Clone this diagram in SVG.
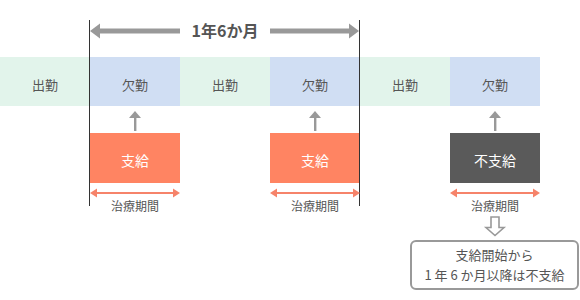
<svg xmlns="http://www.w3.org/2000/svg" width="580" height="300" viewBox="0 0 580 300">
<style>
text{font-family:"Noto Sans CJK JP","Noto Sans",sans-serif;text-anchor:middle}
.band{font-size:13px;fill:#555}
.g{fill:#e2f4eb}
.b{fill:#d0def3}
.box{font-size:14px;fill:#fff}
.per{font-size:12px;fill:#555}
.note{font-size:13px;fill:#555}
.up{fill:#999}
.oa{stroke:#f6836a;stroke-width:2;fill:none}
.oh{fill:#f6836a}
</style>
<rect width="580" height="300" fill="#fff"/>
<g id="band">
<g id="s1"><rect class="g" x="0" y="57" width="90" height="49"/><text class="band" x="45" y="90">出勤</text></g>
<g id="s2"><rect class="b" x="90" y="57" width="90" height="49"/><text class="band" x="135" y="90">欠勤</text></g>
<g id="s3"><rect class="g" x="180" y="57" width="90" height="49"/><text class="band" x="225" y="90">出勤</text></g>
<g id="s4"><rect class="b" x="270" y="57" width="90" height="49"/><text class="band" x="315" y="90">欠勤</text></g>
<g id="s5"><rect class="g" x="360" y="57" width="90" height="49"/><text class="band" x="405" y="90">出勤</text></g>
<g id="s6"><rect class="b" x="450" y="57" width="90" height="49"/><text class="band" x="495" y="90">欠勤</text></g>
</g>
<g id="pay1"><rect x="90" y="133" width="90" height="50" fill="#ff8462"/><text class="box" x="135" y="166">支給</text></g>
<g id="pay2"><rect x="270" y="133" width="90" height="50" fill="#ff8462"/><text class="box" x="315" y="166">支給</text></g>
<g id="pay3"><rect x="450" y="133" width="90" height="50" fill="#5a5a5a"/><text class="box" x="495" y="166">不支給</text></g>
<g id="label1"><text class="per" x="135" y="211">治療期間</text></g>
<g id="label2"><text class="per" x="315" y="211">治療期間</text></g>
<g id="label3"><text class="per" x="495" y="211">治療期間</text></g>
<g id="span"><text x="225" y="37" style="font-size:16px;font-weight:bold;fill:#555">1年6か月</text></g>
<g id="note"><rect x="411" y="241" width="167" height="48" rx="5" fill="#fff" stroke="#999" stroke-width="2"/><text class="note" x="494.5" y="260">支給開始から</text><text class="note" x="494.5" y="280">1 年 6 か月以降は不支給</text></g>
<g id="connectors">
<line x1="89.5" y1="20" x2="89.5" y2="206" stroke="#333" stroke-width="1"/>
<line x1="359.5" y1="20" x2="359.5" y2="206" stroke="#333" stroke-width="1"/>
<rect x="99" y="28.5" width="81" height="5" fill="#999"/>
<polygon points="90,31 100,23.5 100,38.5" fill="#999"/>
<rect x="270" y="28.5" width="80" height="5" fill="#999"/>
<polygon points="359,31 349,23.5 349,38.5" fill="#999"/>
<g class="up"><polygon points="135,111 129,118 141,118"/><rect x="134" y="117" width="2.4" height="14"/></g>
<g class="up"><polygon points="315,111 309,118 321,118"/><rect x="314" y="117" width="2.4" height="14"/></g>
<g class="up"><polygon points="495,111 489,118 501,118"/><rect x="494" y="117" width="2.4" height="14"/></g>
<g><line class="oa" x1="95" y1="193" x2="175" y2="193"/><polygon class="oh" points="90,193 97,188.5 97,197.5"/><polygon class="oh" points="180,193 173,188.5 173,197.5"/></g>
<g><line class="oa" x1="275" y1="193" x2="355" y2="193"/><polygon class="oh" points="270,193 277,188.5 277,197.5"/><polygon class="oh" points="360,193 353,188.5 353,197.5"/></g>
<g><line class="oa" x1="455" y1="193" x2="535" y2="193"/><polygon class="oh" points="450,193 457,188.5 457,197.5"/><polygon class="oh" points="540,193 533,188.5 533,197.5"/></g>
<polygon points="491,217 499,217 499,227.5 504,227.5 495,235.5 486,227.5 491,227.5" fill="#fff" stroke="#999" stroke-width="1.6" stroke-linejoin="miter"/>
</g>
</svg>
